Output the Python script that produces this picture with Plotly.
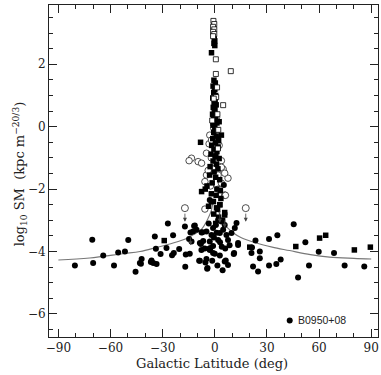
import plotly.graph_objects as go

# ---------------- data ----------------
# filled circles: galactic latitude (deg), log10 SM
fc_b = [-80.5, -70.5, -70, -64.2, -58, -55.6, -51.7, -49.8, -45.6, -42.1, -42.5, -36.4,
        -35.4, -33.5, -34.5, -33.9, -31.2, -27.8, -27, -24, -23.6, -24.6, -20.5, -17.2,
        -17, -16.7, -14.4, -14.8, -11.9, -10.5, -8.6, -8, -7.7, -4.8, -4.2, -5.4, -7.1,
        -2.9, -2.5, -1, -12.5, -7.6, -4.8, -13.4, -8.6, -1.9, -1, 0.6, 1.9, 3.8, 5.7,
        4.8, 2.9, 1.9, 6.7, 7.6, 9.6, 11.5, 12.5, 13.4, -1, -3.3, -6.7, -4.4, -9, 2.9,
        0, 5.7, 7.6, 10.9, -36.8, -43.1, -11.5, -2.9, 5.2, -2.9, 3, 4, -0.5, 1, -3.5,
        6, 8.5, -5.8, -1.5, 1.5, 4.5, -14, 11.1, 13.4, 21.1, 21.4, 22, 23.4, 24.9, 25.9,
        25.9, 31.2, 31.2, 35.4, 36, 37.9, 45.4, 47.9, 52.1, 54.2, 59.8, 68.6, 74.7, 86,
        6.3, 43.1]
fc_y = [-4.45, -3.62, -4.37, -4.13, -4.45, -4.03, -4.0, -3.63, -4.65, -4.24, -4.39, -4.29,
        -4.37, -4.4, -3.52, -3.91, -4.08, -3.89, -3.1, -3.48, -4.05, -4.12, -3.92, -3.2,
        -4.49, -4.1, -4.07, -3.6, -3.18, -3.3, -4.3, -3.76, -3.95, -4.24, -4.53, -4.35, -3.38,
        -3.68, -3.89, -4.05, -3.36, -3.39, -3.36, -3.68, -3.73, -3.47, -3.25, -3.15, -2.99, -3.04, -3.15,
        -3.3, -3.41, -3.63, -3.47, -3.63, -3.41, -3.25, -3.09, -3.73, -3.82, -3.91, -3.66, -4.55, -4.3, -4.13,
        -4.07, -4.32, -4.43, -4.08, -4.34, -4.37, -3.17, -2.35, -1.87, -3.95, -3.7, -3.85, -3.55, -3.4, -3.1,
        -3.9, -3.8, -3.9, -4.3, -4.45, -4.6, -3.39, -4.05, -3.79, -4.05, -3.87, -4.48, -3.65, -4.64, -4.0,
        -4.22, -3.6, -4.45, -4.4, -3.48, -4.26, -3.13, -4.83, -3.7, -4.45, -4.01, -4.05, -4.45, -4.48,
        -4.29, -6.21]

# filled squares
fs_b = [-29.1, 46.6, 60.3, 63.8, 80.3, 89.5, 20.1,
        -0.3, 0, -0.5, 0, -1.9,
        -0.5, 0.3, -1.0, 0.0, -0.6, 0.5, -1.2, 0.2, -0.4, 0.8, -0.9, 0.1, -0.3, -1.3, 0.6,
        -0.7, 0.3, 1.2, -1.0, 0.0, 1.5, -0.6, 3.8, 0.8, -1.2, 2.2, -8.2, 0.4, -1.8, 1.9,
        -0.5, 1.2, -2.2, 0.3, 2.5, -1.0, 0.9, -2.7, 1.8, -0.4, -3.0, 0.5, 2.8, -1.5, -4.5,
        1.2, -7.6, -2.0, 0.8, 3.5, -0.8, 2.9, -3.6, 1.6, 5.7, -0.6, 2.2, 4.5, 0.5, 1.9,
        -1.0, 2.5, 2.9, 5.7, -1.9, 1.0, -5.5, 3.2]
fs_y = [-3.65, -3.84, -3.57, -3.48, -3.95, -3.86, -3.86,
        2.83, 2.75, 2.67, 2.6, 2.37,
        1.49, 1.4, 1.3, 1.2, 1.1, 1.0, 0.92, 0.85, 0.78, 0.7, 0.62, 0.55, 0.47, 0.4, 0.32,
        0.25, 0.18, 0.12, 0.05, -0.02, -0.1, -0.18, -0.27, -0.3, -0.38, -0.45, -0.5, -0.52, -0.6, -0.65,
        -0.72, -0.8, -0.88, -0.95, -1.02, -1.1, -1.2, -1.28, -1.35, -1.45, -1.55, -1.62, -1.7, -1.8, -1.9,
        -2.0, -2.08, -2.15, -2.2, -2.3, -2.4, -2.5, -2.55, -2.65, -2.75, -2.8, -2.9, -3.0, -3.1, -0.37,
        0.11, 0.16, -2.5, -2.83, -2.4, -2.6, -2.0, -2.05]

# open squares
os_b = [-0.8, -0.3, -1.0, -0.3, -1.0, -0.3, -1.0, 0.6, 9.2, 0.6, 4.8, 1.3, 0.8, 1.5, 2.0, -0.6, 1.8, -1.5]
os_y = [3.39, 3.29, 3.2, 3.12, 3.04, 2.97, 2.9, 2.16, 1.78, 1.69, 0.69, 1.26, 0.95, 0.4, -0.1, 0.9, -0.7, 0.2]

# open circles
oc_b = [-13.4, -14.8, -9.6, -7.6, -3.3, 3.8, 4.8, 7.6, 5.7, -5.7, 5.7, -5.7, 6.1, -2.9, -0.6,
        -1.9, -4.8, 0.0, 3.8, -4.8, 1.9, 3.8, 2.5, -2.0, -1.0, 2.0, -2.5, 1.0, -3.8, 0.5]
oc_y = [-1.01, -1.09, -1.12, -1.17, -0.55, -1.09, -1.36, -1.65, -1.49, -1.76, -2.19, -2.64, -2.2, -0.27, -0.05,
        -0.43, -0.85, -0.85, -1.3, -1.55, -1.55, -1.81, -0.6, -1.0, -1.35, -2.0, -1.9, 0.3, -1.4, -0.95]

# upper limits shown as open circles with arrows
ul_b = [-17.2, 17.8]
ul_y = [-2.61, -2.61]
ul_to = [-3.05, -3.05]

# extra upper-limit arrows attached to points in the cluster
ar_b = [-14.0, 2.9, 5.7]
ar_from = [-3.5, -2.65, -2.95]
ar_to = [-3.8, -3.08, -3.24]

# model curve
curve_b = [-90, -72, -53, -43, -33.5, -24, -15, -12, -7.6, -3.8, -1.9, -1.2, None,
           1.5, 3, 5, 7.5, 10.5, 15, 24, 33, 43, 55, 66, 80, 90]
curve_y = [-4.27, -4.21, -4.07, -4.0, -3.87, -3.73, -3.55, -3.45, -3.28, -2.93, -2.67, -2.45, None,
           -2.55, -2.85, -3.1, -3.25, -3.4, -3.55, -3.73, -3.86, -3.97, -4.1, -4.18, -4.22, -4.24]

label_name = "B0950+08"
label_b = 43.1
label_y = -6.21

x_ticks = [-90, -60, -30, 0, 30, 60, 90]
y_ticks = [-6, -4, -2, 0, 2]

# ---------------- figure ----------------
fig = go.Figure()

fig.add_trace(go.Scatter(x=curve_b, y=curve_y, mode="lines", line=dict(color="#777777", width=1.1, shape="spline"),
                         connectgaps=False, hoverinfo="skip"))
fig.add_trace(go.Scatter(x=oc_b, y=oc_y, mode="markers",
                         marker=dict(symbol="circle", size=6.5, color="white", line=dict(width=0.8, color="#222"))))
fig.add_trace(go.Scatter(x=fs_b, y=fs_y, mode="markers",
                         marker=dict(symbol="square", size=5.5, color="black", line=dict(width=0))))
fig.add_trace(go.Scatter(x=os_b, y=os_y, mode="markers",
                         marker=dict(symbol="square", size=5, color="white", line=dict(width=0.8, color="black"))))
fig.add_trace(go.Scatter(x=ul_b, y=ul_y, mode="markers",
                         marker=dict(symbol="circle", size=7, color="white", line=dict(width=0.8, color="#222"))))
fig.add_trace(go.Scatter(x=fc_b, y=fc_y, mode="markers",
                         marker=dict(symbol="circle", size=6, color="black", line=dict(width=0))))

for b, y0, y1 in zip(ul_b, ul_y, ul_to):
    fig.add_annotation(x=b, y=y1, ax=b, ay=y0, xref="x", yref="y", axref="x", ayref="y",
                       showarrow=True, arrowhead=2, arrowsize=1, arrowwidth=0.8, arrowcolor="#444",
                       startstandoff=4, standoff=0, text="")
for b, y0, y1 in zip(ar_b, ar_from, ar_to):
    fig.add_annotation(x=b, y=y1, ax=b, ay=y0, xref="x", yref="y", axref="x", ayref="y",
                       showarrow=True, arrowhead=2, arrowsize=1, arrowwidth=0.8, arrowcolor="#444",
                       startstandoff=0, standoff=0, text="")

fig.add_annotation(x=label_b, y=label_y, xref="x", yref="y", text=label_name, showarrow=False,
                   xanchor="left", yanchor="middle", xshift=6,
                   font=dict(family="Liberation Sans, Arial", size=10.5, color="#222"))

serif = "DejaVu Serif"
fig.add_annotation(xref="paper", yref="paper", x=0.495, y=-0.081, text="Galactic Latitude (deg)",
                   showarrow=False, xanchor="center", yanchor="middle",
                   font=dict(family=serif, size=13, color="#222"))
fig.add_annotation(xref="paper", yref="paper", x=-0.088, y=0.49,
                   text="log<sub>10</sub> SM  (kpc m<sup>−20/3</sup>)", textangle=-90,
                   showarrow=False, xanchor="center", yanchor="middle",
                   font=dict(family=serif, size=13, color="#222"))

axis_common = dict(showgrid=False, zeroline=False, showline=True, linecolor="#222", linewidth=1,
                   mirror="allticks", ticks="inside", ticklen=8, tickwidth=1, tickcolor="#222",
                   tickfont=dict(family=serif, size=12, color="#222"))
fig.update_xaxes(range=[-95.4, 93.9], tickvals=x_ticks, ticktext=[str(v).replace("-", "−") for v in x_ticks],
                 minor=dict(dtick=10, tick0=-90, ticklen=4, ticks="inside", tickcolor="#222"), **axis_common)
fig.update_yaxes(range=[-6.74, 3.9], tickvals=y_ticks, ticktext=[str(v).replace("-", "−") for v in y_ticks],
                 minor=dict(dtick=0.5, tick0=0, ticklen=4, ticks="inside", tickcolor="#222"), **axis_common)

fig.update_layout(width=381, height=375, margin=dict(l=49, r=3, t=5, b=38),
                  paper_bgcolor="white", plot_bgcolor="white", showlegend=False)

fig.write_html("out.html", config={"displayModeBar": False},
               post_script="document.body.style.margin='0';document.body.style.overflow='hidden';")
